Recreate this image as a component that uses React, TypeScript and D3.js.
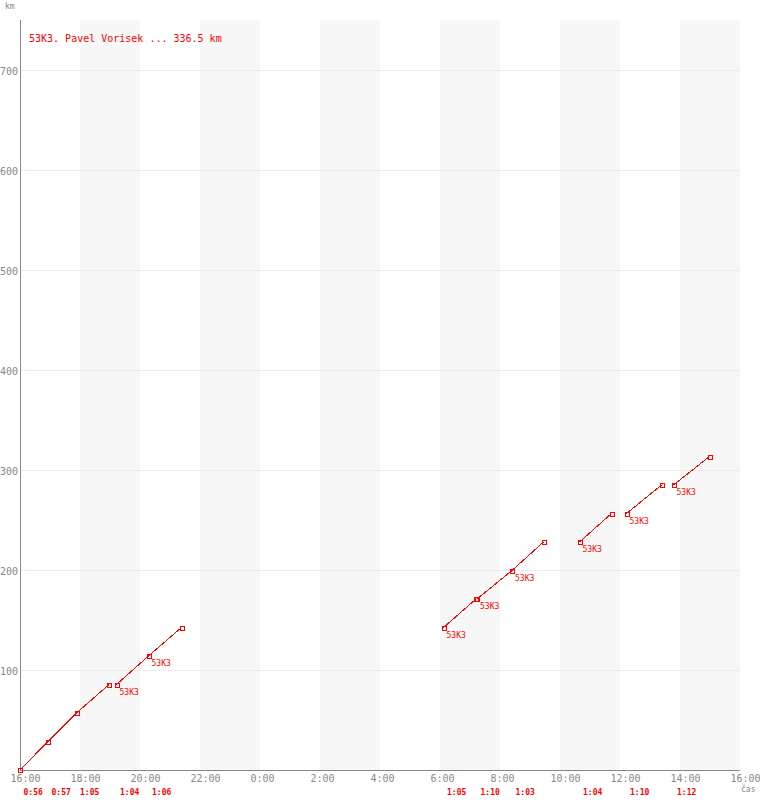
import React, {useRef, useEffect} from 'react'
import * as d3 from 'd3'

// lap data (start clock time, lap duration, km from/to)
const lapStart = ['16:00', '16:56', '17:53', '19:13', '20:17', '6:07', '7:14', '8:24', '10:39', '12:13', '13:47']
const lapTime = ['0:56', '0:57', '1:05', '1:04', '1:06', '1:05', '1:10', '1:03', '1:04', '1:10', '1:12']
const lapFromKm = [0, 28.5, 57, 85.5, 114, 142.5, 171, 199.5, 228, 256.5, 285]
const lapToKm = [28.5, 57, 85.5, 114, 142.5, 171, 199.5, 228, 256.5, 285, 313.5]
const lapLabeled = [false, false, false, true, true, true, true, true, true, true, true]

const bandStarts = ['18:00', '22:00', '2:00', '6:00', '10:00', '14:00']
const kmTicks = [100, 200, 300, 400, 500, 600, 700]

const title = '53K3. Pavel Vorisek ... 336.5 km'
const riderCode = '53K3'

const W = 760
const H = 800
const margin = {top: 20, right: 20, bottom: 30, left: 20}
const font = "'DejaVu Sans Mono', monospace"
const red = '#ff0000'
const grey = '#888888'

// clock time -> date, times before 16:00 belong to the next day
function toDate(s: string) {
  const [h, m] = s.split(':').map(Number)
  return new Date(2000, 0, h < 16 ? 2 : 1, h, m)
}
function addDur(d: Date, s: string) {
  const [h, m] = s.split(':').map(Number)
  return new Date(+d + (h * 60 + m) * 60000)
}

export default function App() {
  const svgRef = useRef<SVGSVGElement>(null)

  useEffect(() => {
    const svg = d3.select(svgRef.current)
    svg.selectAll('*').remove()

    const t0 = new Date(2000, 0, 1, 16)
    const t1 = new Date(2000, 0, 2, 16)
    const x = d3.scaleTime().domain([t0, t1]).range([margin.left, W - margin.right])
    const y = d3.scaleLinear().domain([0, 700]).range([H - margin.bottom, 70])
    const yTop = margin.top

    const laps = lapStart.map((s, i) => {
      const a = toDate(s)
      return {a, b: addDur(a, lapTime[i]), from: lapFromKm[i], to: lapToKm[i], t: lapTime[i], lab: lapLabeled[i]}
    })

    // shaded 2-hour bands
    svg.append('g')
      .selectAll('rect')
      .data(bandStarts)
      .join('rect')
      .attr('x', d => x(toDate(d)))
      .attr('y', yTop)
      .attr('width', d => x(d3.timeHour.offset(toDate(d), 2)) - x(toDate(d)))
      .attr('height', y(0) - yTop)
      .attr('fill', '#f7f7f7')

    // grid
    svg.append('g')
      .selectAll('line')
      .data(kmTicks)
      .join('line')
      .attr('x1', margin.left)
      .attr('x2', W - margin.right)
      .attr('y1', d => Math.round(y(d)) + 0.5)
      .attr('y2', d => Math.round(y(d)) + 0.5)
      .attr('stroke', '#ebebeb')

    // y axis
    const yAxis = d3.axisLeft(y).tickValues(kmTicks).tickSize(0).tickPadding(2)
    svg.append('g')
      .attr('transform', `translate(${margin.left},0)`)
      .call(yAxis)
      .call(g => g.select('.domain').remove())
      .call(g => g.selectAll('text')
        .attr('fill', grey)
        .attr('dy', 4)
        .style('font-family', font)
        .style('font-size', '10px'))

    // x axis
    const xAxis = d3.axisBottom(x)
      .ticks(d3.timeHour.every(2))
      .tickFormat(d3.timeFormat('%-H:%M') as any)
      .tickSize(0)
    svg.append('g')
      .attr('transform', `translate(0,${y(0)})`)
      .call(xAxis)
      .call(g => g.select('.domain').remove())
      .call(g => g.selectAll('text')
        .attr('fill', grey)
        .attr('text-anchor', 'start')
        .attr('x', -10)
        .attr('y', 12)
        .attr('dy', 0)
        .style('font-family', font)
        .style('font-size', '10px'))

    svg.append('line')
      .attr('x1', margin.left + 0.5).attr('x2', margin.left + 0.5)
      .attr('y1', yTop).attr('y2', y(0))
      .attr('stroke', grey)
    svg.append('line')
      .attr('x1', margin.left).attr('x2', W - margin.right)
      .attr('y1', y(0) + 0.5).attr('y2', y(0) + 0.5)
      .attr('stroke', grey)

    svg.append('text').attr('x', 5).attr('y', 9)
      .attr('fill', grey).style('font-family', font).style('font-size', '8px')
      .text('km')
    svg.append('text').attr('x', W - margin.right + 1).attr('y', H - 8)
      .attr('fill', grey).style('font-family', font).style('font-size', '8px')
      .text('čas')

    // laps
    svg.append('g')
      .selectAll('line')
      .data(laps)
      .join('line')
      .attr('x1', d => x(d.a)).attr('y1', d => y(d.from))
      .attr('x2', d => x(d.b)).attr('y2', d => y(d.to))
      .attr('stroke', red)
      .attr('shape-rendering', 'crispEdges')

    const pts = laps.flatMap(d => [{t: d.a, km: d.from}, {t: d.b, km: d.to}])
    svg.append('g')
      .selectAll('rect')
      .data(pts)
      .join('rect')
      .attr('x', d => Math.round(x(d.t)) - 2 + 0.5)
      .attr('y', d => Math.round(y(d.km)) - 2 + 0.5)
      .attr('width', 4)
      .attr('height', 4)
      .attr('fill', 'none')
      .attr('stroke', red)
      .attr('shape-rendering', 'crispEdges')

    svg.append('g')
      .selectAll('text')
      .data(laps.filter(d => d.lab))
      .join('text')
      .attr('x', d => x(d.a) + 3)
      .attr('y', d => y(d.from) + 10)
      .attr('fill', red)
      .style('font-family', font)
      .style('font-size', '8px')
      .text(riderCode)

    // lap durations under the axis
    svg.append('g')
      .selectAll('text')
      .data(laps)
      .join('text')
      .attr('x', d => x(d.a) + 3.5)
      .attr('y', H - 5)
      .attr('fill', red)
      .style('font-family', font)
      .style('font-size', '8px')
      .style('font-weight', 'bold')
      .text(d => d.t)

    svg.append('text')
      .attr('x', 29)
      .attr('y', 42)
      .attr('fill', red)
      .style('font-family', font)
      .style('font-size', '10px')
      .text(title)
  }, [])

  return (
    <svg ref={svgRef} width={W} height={H}
      style={{position: 'absolute', left: 0, top: 0, background: '#fff'}} />
  )
}
